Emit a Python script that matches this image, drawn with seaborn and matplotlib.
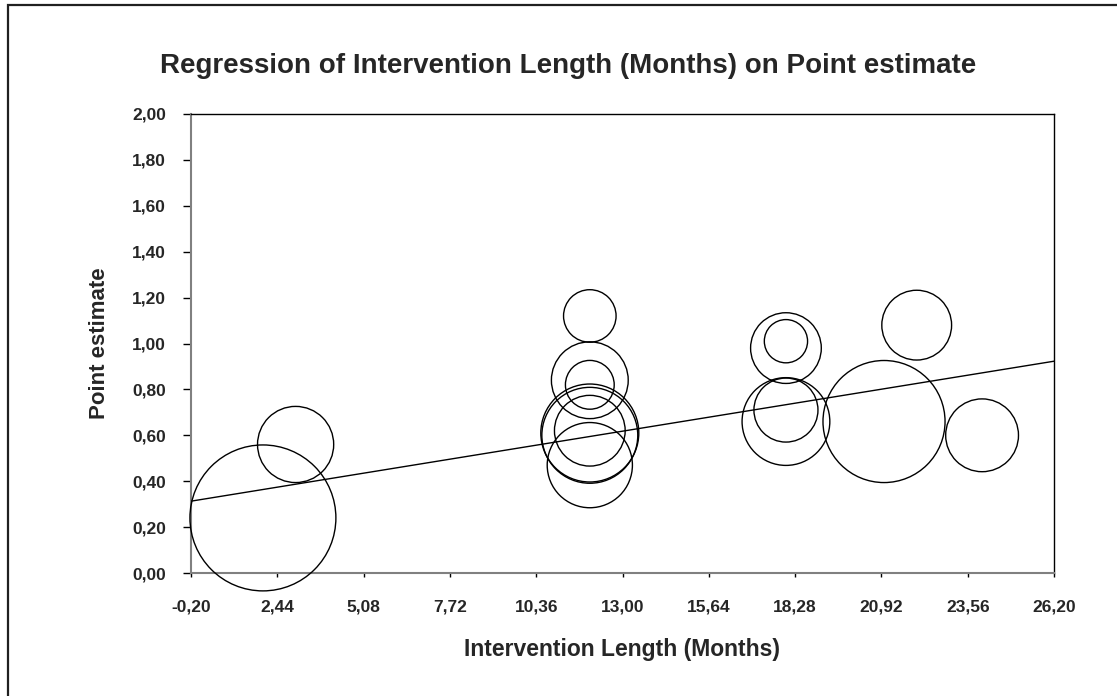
import numpy as np
import pandas as pd
import matplotlib
matplotlib.use("Agg")
import matplotlib.pyplot as plt
from matplotlib.ticker import FuncFormatter
from matplotlib.patches import Rectangle
import seaborn as sns

# ---- data ----
months = [2.0, 3.0, 12.0, 12.0, 12.0, 12.0, 12.0, 12.0, 12.0,
          18.0, 18.0, 18.0, 18.0, 21.0, 22.0, 24.0]
point_estimate = [0.24, 0.56, 1.12, 0.84, 0.82, 0.60, 0.61, 0.62, 0.47,
                  0.98, 1.01, 0.71, 0.66, 0.66, 1.08, 0.60]
study_weight = [213, 58, 27.6, 59, 23.8, 92, 96, 50, 72.6,
                50, 18.7, 41, 77, 149, 48.7, 53]
reg_intercept = 0.3176
reg_slope = 0.0231
x_ticks = [-0.20, 2.44, 5.08, 7.72, 10.36, 13.00, 15.64, 18.28, 20.92, 23.56, 26.20]
y_ticks = [0.00, 0.20, 0.40, 0.60, 0.80, 1.00, 1.20, 1.40, 1.60, 1.80, 2.00]

title = "Regression of Intervention Length (Months) on Point estimate"
x_label = "Intervention Length (Months)"
y_label = "Point estimate"

df = pd.DataFrame({"months": months, "est": point_estimate, "w": study_weight})

sns.set_style("white")
plt.rcParams["font.family"] = ["Liberation Sans", "DejaVu Sans"]
plt.rcParams["font.weight"] = "bold"

W, H = 1117, 696
fig = plt.figure(figsize=(W / 100, H / 100), dpi=100)
ax = fig.add_axes([191 / W, 1 - 573 / H, (1054 - 191) / W, (573 - 114) / H])

sns.scatterplot(data=df, x="months", y="est", ax=ax,
                s=df["w"].to_numpy() * 51.84,
                facecolor="none", edgecolor="black", linewidth=1.0,
                legend=False, zorder=3, clip_on=False)

ax.axline((0, reg_intercept), slope=reg_slope, color="black", linewidth=1.0, zorder=4)

ax.set_xlim(x_ticks[0], x_ticks[-1])
ax.set_ylim(y_ticks[0], y_ticks[-1])
ax.set_xticks(x_ticks)
ax.set_yticks(y_ticks)
fmt = FuncFormatter(lambda v, p: f"{v:.2f}".replace(".", ","))
ax.xaxis.set_major_formatter(fmt)
ax.yaxis.set_major_formatter(fmt)

for side in ["left", "bottom"]:
    ax.spines[side].set_color("#808080")
    ax.spines[side].set_linewidth(1.5)
for side in ["top", "right"]:
    ax.spines[side].set_color("black")
    ax.spines[side].set_linewidth(1.0)
    ax.spines[side].set_visible(True)

ax.tick_params(axis="y", direction="out", length=6, width=1, color="black",
               labelsize=12.5, pad=12, left=True)
ax.tick_params(axis="x", direction="out", length=3, width=1, color="black",
               labelsize=12.5, pad=16, bottom=True)
for lab in ax.get_xticklabels() + ax.get_yticklabels():
    lab.set_fontweight("bold")

ax.set_xlabel(x_label, fontsize=16.5, fontweight="bold", labelpad=17)
ax.set_ylabel(y_label, fontsize=16, fontweight="bold", labelpad=16)
fig.text(568.5 / W, 1 - 66 / H, title, ha="center", va="center",
         fontsize=20, fontweight="bold")

fig.patches.append(Rectangle((8 / W, -0.05), 1.2, 1 - 5 / H + 0.05,
                             transform=fig.transFigure, fill=False,
                             edgecolor="#202020", linewidth=1.6))

fig.savefig("out.png", dpi=100)
